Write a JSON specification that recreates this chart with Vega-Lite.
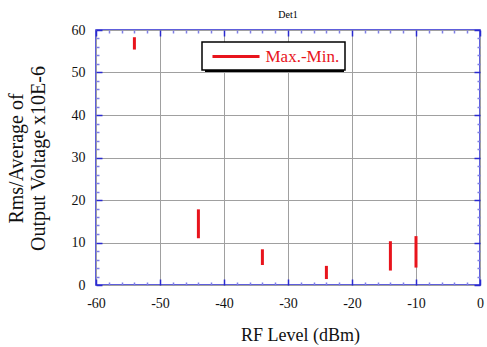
{
  "$schema": "https://vega.github.io/schema/vega-lite/v6.json",
  "width": 384,
  "height": 255,
  "autosize": {"type": "none"},
  "padding": {"left": 96, "top": 30, "right": 7, "bottom": 62},
  "background": "white",
  "title": {"text": "Det1", "fontSize": 10, "font": "Liberation Serif", "fontWeight": "normal", "color": "#000000", "offset": 3, "anchor": "middle"},
  "config": {
    "view": {"stroke": "#2a2ad0", "strokeWidth": 1.5},
    "axis": {"domain": false, "labelFont": "Liberation Serif", "titleFont": "Liberation Serif", "titleFontWeight": "normal", "labelColor": "#111111", "titleColor": "#111111", "labelFlush": false, "labelOverlap": false, "gridColor": "#a0a0a0", "gridWidth": 1, "gridOpacity": 1}
  },
  "data": {"values": [
    {"rf": -54, "max": 58.3, "min": 55.4, "series": "Max.-Min."},
    {"rf": -44, "max": 17.8, "min": 11.0, "series": "Max.-Min."},
    {"rf": -34, "max": 8.4, "min": 4.7, "series": "Max.-Min."},
    {"rf": -24, "max": 4.5, "min": 1.4, "series": "Max.-Min."},
    {"rf": -14, "max": 10.3, "min": 3.4, "series": "Max.-Min."},
    {"rf": -10, "max": 11.5, "min": 4.1, "series": "Max.-Min."}
  ]},
  "layer": [
    {
      "mark": {"type": "rule", "strokeWidth": 3},
      "encoding": {
        "x": {"field": "rf", "type": "quantitative", "scale": {"domain": [-60, 0], "nice": false},
          "axis": {"orient": "bottom", "values": [-60, -50, -40, -30, -20, -10, 0], "grid": true, "ticks": false, "labelExpr": "'' + datum.value", "labelPadding": 11, "labelFontSize": 14, "title": "RF Level (dBm)", "titleFontSize": 18, "titlePadding": 16, "titleX": 204}},
        "y": {"field": "max", "type": "quantitative", "scale": {"domain": [0, 60], "nice": false},
          "axis": {"orient": "left", "values": [0, 10, 20, 30, 40, 50, 60], "grid": true, "ticks": false, "labelExpr": "'' + datum.value", "labelPadding": 11, "labelFontSize": 14, "title": ["Rms/Average of", "Output Voltage x10E-6"], "titleFontSize": 20, "titleLineHeight": 22, "titleAngle": -90, "titleX": -80, "titleY": 128, "titleBaseline": "middle", "titleAlign": "center"}},
        "y2": {"field": "min"},
        "color": {"field": "series", "type": "nominal", "scale": {"range": ["#e8141c"]},
          "legend": {"title": null, "orient": "none", "legendX": 106, "legendY": 12, "zindex": 2, "fillColor": "white", "strokeColor": "black", "padding": 5, "symbolType": "M-2.94,0H2.94", "symbolStrokeWidth": 3, "symbolSize": 256, "symbolOffset": 19.5, "labelColor": "#e8141c", "labelFont": "Liberation Serif", "labelFontSize": 17, "labelOffset": 20, "cornerRadius": 0,
            "encode": {"legend": {"update": {"strokeWidth": {"value": 1.5}}}}}}
      }
    },
    {
      "mark": {"type": "rule", "opacity": 0},
      "encoding": {
        "x": {"field": "rf", "type": "quantitative", "axis": {"orient": "bottom", "offset": -6, "values": [-60, -50, -40, -30, -20, -10, 0], "labels": false, "grid": false, "title": null, "tickSize": 6, "tickColor": "#2a2ad0", "tickWidth": 1.5}},
        "y": {"field": "max", "type": "quantitative", "axis": {"orient": "left", "offset": -6, "values": [0, 10, 20, 30, 40, 50, 60], "labels": false, "grid": false, "title": null, "tickSize": 6, "tickColor": "#2a2ad0", "tickWidth": 1.5}},
        "y2": {"field": "min"},
        "stroke": {"field": "max", "type": "quantitative", "scale": {"range": ["black", "black"]},
          "legend": {"title": null, "orient": "none", "direction": "horizontal", "legendX": 109, "legendY": 15, "zindex": 1, "padding": 0, "gradientLength": 139, "gradientThickness": 27, "gradientStrokeWidth": 0, "labelExpr": "''", "labelFontSize": 1, "labelOpacity": 0, "tickCount": 2}}
      }
    },
    {
      "mark": {"type": "rule", "opacity": 0},
      "encoding": {
        "x": {"field": "rf", "type": "quantitative", "axis": {"orient": "top", "offset": -6, "values": [-60, -50, -40, -30, -20, -10, 0], "labels": false, "grid": false, "title": null, "tickSize": 6, "tickColor": "#2a2ad0", "tickWidth": 1.5}},
        "y": {"field": "max", "type": "quantitative", "axis": {"orient": "right", "offset": -6, "values": [0, 10, 20, 30, 40, 50, 60], "labels": false, "grid": false, "title": null, "tickSize": 6, "tickColor": "#2a2ad0", "tickWidth": 1.5}},
        "y2": {"field": "min"}
      }
    },
    {
      "mark": {"type": "rule", "opacity": 0},
      "encoding": {
        "x": {"field": "rf", "type": "quantitative", "axis": {"orient": "bottom", "offset": -3, "values": [-58, -56, -54, -52, -48, -46, -44, -42, -38, -36, -34, -32, -28, -26, -24, -22, -18, -16, -14, -12, -8, -6, -4, -2], "labels": false, "grid": false, "title": null, "tickSize": 3, "tickColor": "#7f7fe6", "tickWidth": 1.5}},
        "y": {"field": "max", "type": "quantitative", "axis": {"orient": "left", "offset": -3, "values": [2, 4, 6, 8, 12, 14, 16, 18, 22, 24, 26, 28, 32, 34, 36, 38, 42, 44, 46, 48, 52, 54, 56, 58], "labels": false, "grid": false, "title": null, "tickSize": 3, "tickColor": "#7f7fe6", "tickWidth": 1.5}},
        "y2": {"field": "min"}
      }
    },
    {
      "mark": {"type": "rule", "opacity": 0},
      "encoding": {
        "x": {"field": "rf", "type": "quantitative", "axis": {"orient": "top", "offset": -3, "values": [-58, -56, -54, -52, -48, -46, -44, -42, -38, -36, -34, -32, -28, -26, -24, -22, -18, -16, -14, -12, -8, -6, -4, -2], "labels": false, "grid": false, "title": null, "tickSize": 3, "tickColor": "#7f7fe6", "tickWidth": 1.5}},
        "y": {"field": "max", "type": "quantitative", "axis": {"orient": "right", "offset": -3, "values": [2, 4, 6, 8, 12, 14, 16, 18, 22, 24, 26, 28, 32, 34, 36, 38, 42, 44, 46, 48, 52, 54, 56, 58], "labels": false, "grid": false, "title": null, "tickSize": 3, "tickColor": "#7f7fe6", "tickWidth": 1.5}},
        "y2": {"field": "min"}
      }
    }
  ],
  "resolve": {"axis": {"x": "independent", "y": "independent"}}
}
